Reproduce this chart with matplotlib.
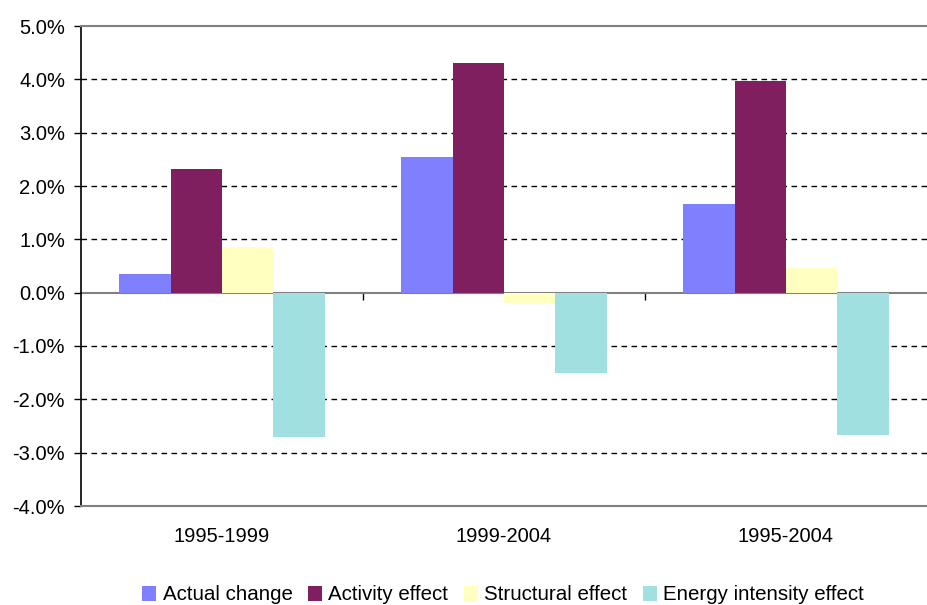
import matplotlib
matplotlib.use("Agg")
import matplotlib.pyplot as plt
import numpy as np
from matplotlib.ticker import FuncFormatter, FixedLocator

plt.rcParams['font.family'] = ['Liberation Sans', 'DejaVu Sans']

periods = ["1995-1999", "1999-2004", "1995-2004"]
series_names = ["Actual change", "Activity effect", "Structural effect", "Energy intensity effect"]
actual_change = [0.35, 2.55, 1.67]
activity_effect = [2.31, 4.31, 3.96]
structural_effect = [0.86, -0.19, 0.47]
energy_intensity_effect = [-2.71, -1.50, -2.66]
colors = ["#8080FF", "#7F1F5F", "#FFFFC0", "#A0E0E0"]

series = [actual_change, activity_effect, structural_effect, energy_intensity_effect]

fig = plt.figure(figsize=(9.28, 6.05), dpi=100)
ax = fig.add_axes([81/928, 1-506/605, 846/928, 480/605])

x = np.arange(len(periods))
n = len(series)
gap = 1.5
bw = 1.0 / (n + gap)
for i, (vals, c, name) in enumerate(zip(series, colors, series_names)):
    offs = (i - (n - 1) / 2) * bw
    ax.bar(x + offs, vals, width=bw, color=c, label=name, zorder=2, linewidth=0)

ax.set_xlim(-0.5, len(periods) - 0.5)
ax.set_ylim(-4, 5)
ax.set_yticks(np.arange(-4, 6, 1))
ax.yaxis.set_major_formatter(FuncFormatter(lambda v, p: f"{v:.1f}%"))
ax.set_xticks(x)
ax.set_xticklabels(periods)

# dashed gridlines for the inner levels
for v in range(-3, 5):
    if v != 0:
        ax.axhline(v, color="black", lw=1.0, ls=(0, (4, 3.2)), zorder=1)

ax.spines['left'].set_color('black')
ax.spines['left'].set_linewidth(1.2)
for s in ('top', 'bottom'):
    ax.spines[s].set_color('#808080')
    ax.spines[s].set_linewidth(1.5)
ax.spines['right'].set_visible(False)

ax.tick_params(axis='y', direction='out', length=5, width=1, color='black',
               labelsize=14.5, pad=6.5, colors='black')
ax.tick_params(axis='x', length=0, labelsize=14.5, pad=15)

# zero axis with category boundary ticks
zero_loc = (0 - (-4)) / 9
sec = ax.secondary_xaxis(zero_loc)
sec.xaxis.set_major_locator(FixedLocator([0.5, 1.5]))
sec.tick_params(axis='x', direction='out', length=5, width=1, color='black', labelbottom=False)
sec.spines['bottom'].set_color('#808080')
sec.spines['bottom'].set_linewidth(1.5)
sec.set_xticklabels([])

handles, labels = ax.get_legend_handles_labels()
fig.legend(handles, labels, loc='center', bbox_to_anchor=(503/928, 1-595/605),
           ncol=4, frameon=False, fontsize=14.8, handlelength=0.7, handleheight=0.7,
           handletextpad=0.3, columnspacing=0.75, borderaxespad=0)

fig.savefig("out.png", dpi=100)
